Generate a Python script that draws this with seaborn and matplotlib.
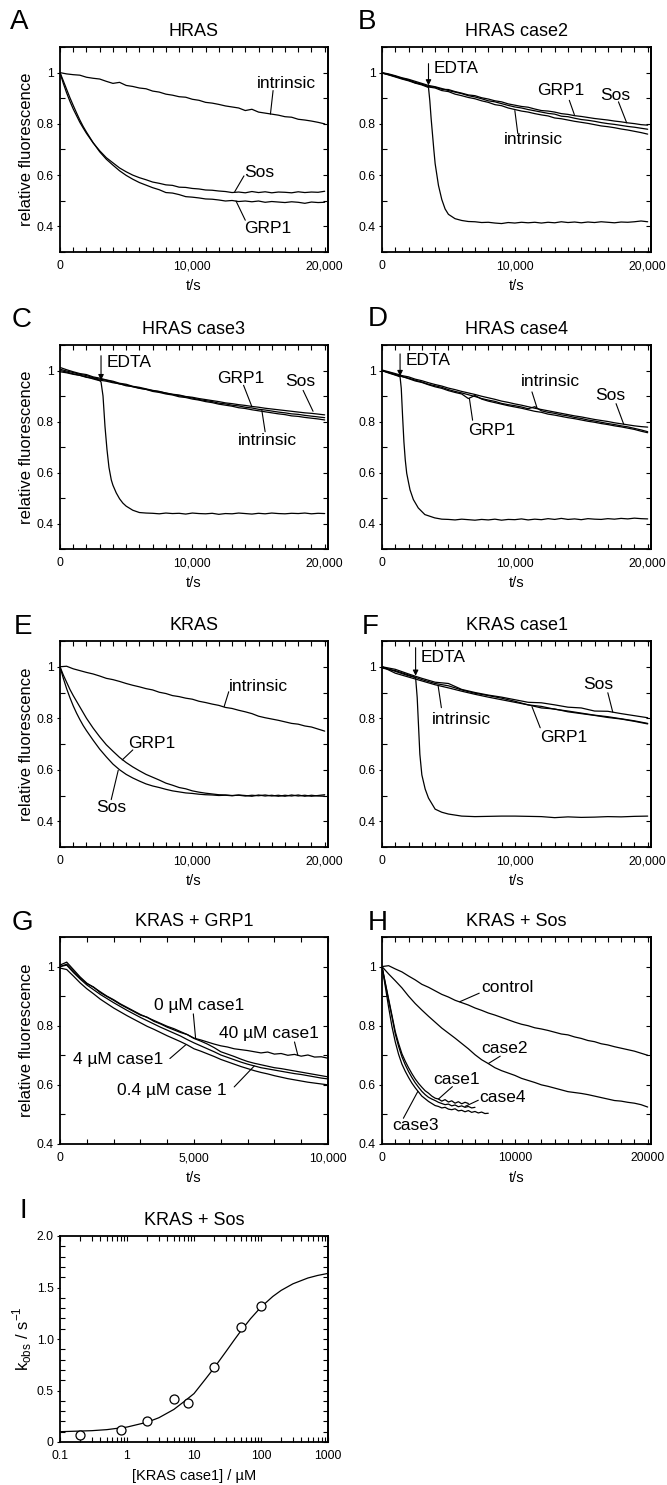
import pandas as pd
import seaborn as sns
import matplotlib.pyplot as plt
from matplotlib.ticker import MultipleLocator, FixedLocator, FuncFormatter, LogLocator, NullFormatter

# ---------------- data ----------------
t500 = list(range(0, 20001, 500))
t_fast = [0, 250, 500, 750, 1000, 1250, 1500, 1750] + list(range(2000, 20001, 500))
t1000 = list(range(0, 20001, 1000))

# A  HRAS
a_intrinsic = [1.000, 0.995, 0.992, 0.990, 0.982, 0.978, 0.975, 0.966, 0.958, 0.962,
               0.950, 0.946, 0.940, 0.937, 0.928, 0.924, 0.916, 0.912, 0.906, 0.904,
               0.896, 0.892, 0.884, 0.881, 0.876, 0.870, 0.866, 0.862, 0.852, 0.857,
               0.846, 0.842, 0.838, 0.834, 0.828, 0.826, 0.818, 0.815, 0.811, 0.806,
               0.800]
a_sos = [1.000, 0.958, 0.921, 0.888, 0.858, 0.832, 0.806, 0.784,
         0.763, 0.726, 0.695, 0.668, 0.648, 0.628, 0.613, 0.600, 0.590, 0.582,
         0.573, 0.568, 0.562, 0.560, 0.553, 0.552, 0.548, 0.546, 0.542, 0.541,
         0.538, 0.536, 0.532, 0.534, 0.531, 0.536, 0.532, 0.535, 0.531, 0.534,
         0.533, 0.531, 0.535, 0.532, 0.534, 0.533, 0.537]
a_grp1 = [1.000, 0.968, 0.935, 0.902, 0.872, 0.843, 0.815, 0.790,
          0.768, 0.727, 0.691, 0.662, 0.639, 0.617, 0.599, 0.584, 0.571, 0.561,
          0.551, 0.543, 0.532, 0.530, 0.524, 0.516, 0.514, 0.511, 0.507, 0.506,
          0.503, 0.499, 0.501, 0.497, 0.499, 0.496, 0.499, 0.494, 0.497, 0.495,
          0.493, 0.496, 0.494, 0.490, 0.495, 0.493, 0.494]

# B  HRAS case2
b_intrinsic = [0.998, 0.992, 0.985, 0.978, 0.972, 0.960, 0.955, 0.944, 0.940, 0.930,
               0.926, 0.916, 0.910, 0.903, 0.898, 0.890, 0.884, 0.875, 0.871, 0.862,
               0.856, 0.850, 0.846, 0.840, 0.835, 0.831, 0.823, 0.820, 0.815, 0.810,
               0.806, 0.802, 0.797, 0.792, 0.789, 0.785, 0.780, 0.776, 0.771, 0.766,
               0.760]
b_grp1 = [1.000, 0.995, 0.988, 0.980, 0.974, 0.966, 0.958, 0.950, 0.945, 0.938,
          0.930, 0.924, 0.918, 0.910, 0.905, 0.898, 0.890, 0.886, 0.879, 0.872,
          0.866, 0.862, 0.856, 0.851, 0.846, 0.841, 0.838, 0.830, 0.828, 0.822,
          0.817, 0.814, 0.810, 0.805, 0.801, 0.798, 0.794, 0.790, 0.787, 0.783,
          0.779]
b_sos = [0.999, 0.993, 0.986, 0.977, 0.970, 0.962, 0.954, 0.946, 0.943, 0.935,
         0.934, 0.926, 0.920, 0.913, 0.910, 0.902, 0.897, 0.890, 0.886, 0.878,
         0.873, 0.868, 0.865, 0.858, 0.852, 0.850, 0.846, 0.840, 0.837, 0.832,
         0.829, 0.825, 0.821, 0.818, 0.815, 0.811, 0.808, 0.804, 0.801, 0.797,
         0.795]
b_edta_t = [0, 500, 1000, 1500, 2000, 2500, 3000, 3500, 3600, 3700, 3800, 3900, 4000,
            4250, 4500, 4750, 5000, 5500, 6000, 6500] + list(range(7000, 20001, 500))
b_edta = [0.999, 0.991, 0.983, 0.975, 0.968, 0.959, 0.952, 0.942, 0.890, 0.820, 0.760,
          0.700, 0.645, 0.560, 0.505, 0.468, 0.447, 0.430, 0.423, 0.419,
          0.418, 0.415, 0.416, 0.413, 0.411, 0.415, 0.413, 0.416, 0.414, 0.416,
          0.413, 0.416, 0.414, 0.418, 0.415, 0.417, 0.414, 0.417, 0.415, 0.418,
          0.416, 0.414, 0.417, 0.416, 0.418, 0.421, 0.418]

# C  HRAS case3
c_intrinsic = [1.005, 0.998, 0.992, 0.985, 0.980, 0.972, 0.966, 0.962, 0.955, 0.947,
               0.943, 0.936, 0.930, 0.926, 0.918, 0.914, 0.908, 0.904, 0.897, 0.894,
               0.888, 0.884, 0.878, 0.874, 0.868, 0.864, 0.860, 0.854, 0.851, 0.846,
               0.842, 0.838, 0.834, 0.830, 0.827, 0.822, 0.820, 0.816, 0.813, 0.810,
               0.806]
c_grp1 = [1.012, 1.003, 0.995, 0.988, 0.984, 0.975, 0.970, 0.963, 0.958, 0.950,
          0.946, 0.938, 0.934, 0.928, 0.922, 0.918, 0.911, 0.906, 0.901, 0.897,
          0.892, 0.886, 0.882, 0.878, 0.872, 0.869, 0.864, 0.861, 0.856, 0.853,
          0.848, 0.845, 0.841, 0.837, 0.834, 0.830, 0.828, 0.824, 0.821, 0.818,
          0.815]
c_sos = [0.995, 0.991, 0.985, 0.981, 0.973, 0.970, 0.962, 0.958, 0.952, 0.948,
         0.940, 0.937, 0.931, 0.926, 0.921, 0.917, 0.912, 0.907, 0.904, 0.898,
         0.895, 0.890, 0.886, 0.882, 0.878, 0.873, 0.870, 0.866, 0.863, 0.859,
         0.856, 0.852, 0.849, 0.846, 0.843, 0.840, 0.837, 0.834, 0.832, 0.829,
         0.826]
c_edta_t = [0, 500, 1000, 1500, 2000, 2500, 3000, 3100, 3250, 3400, 3550, 3700, 3875,
            4000, 4250, 4500, 4750, 5000, 5500, 6000, 6500] + list(range(7000, 20001, 500))
c_edta = [1.000, 0.994, 0.987, 0.981, 0.975, 0.967, 0.960, 0.955, 0.900, 0.780, 0.690,
          0.620, 0.571, 0.550, 0.520, 0.497, 0.480, 0.468, 0.452, 0.443, 0.441,
          0.440, 0.438, 0.441, 0.439, 0.440, 0.437, 0.441, 0.439, 0.438, 0.440,
          0.436, 0.439, 0.438, 0.441, 0.439, 0.437, 0.440, 0.438, 0.441, 0.439,
          0.438, 0.440, 0.439, 0.441, 0.438, 0.440, 0.439]

# D  HRAS case4
d_intrinsic = [0.998, 0.993, 0.985, 0.976, 0.970, 0.962, 0.955, 0.946, 0.940, 0.934,
               0.925, 0.918, 0.912, 0.905, 0.898, 0.890, 0.884, 0.879, 0.871, 0.866,
               0.862, 0.857, 0.850, 0.858, 0.842, 0.836, 0.832, 0.826, 0.822, 0.816,
               0.812, 0.806, 0.802, 0.797, 0.792, 0.788, 0.783, 0.779, 0.773, 0.767,
               0.760]
d_grp1 = [1.000, 0.992, 0.983, 0.977, 0.968, 0.959, 0.953, 0.944, 0.936, 0.930,
          0.921, 0.914, 0.908, 0.890, 0.902, 0.888, 0.880, 0.874, 0.868, 0.862,
          0.857, 0.852, 0.846, 0.840, 0.836, 0.829, 0.825, 0.820, 0.815, 0.811,
          0.806, 0.801, 0.797, 0.792, 0.788, 0.783, 0.779, 0.774, 0.769, 0.762,
          0.756]
d_sos = [1.002, 0.995, 0.988, 0.980, 0.975, 0.966, 0.960, 0.952, 0.945, 0.939,
         0.931, 0.925, 0.918, 0.912, 0.906, 0.899, 0.893, 0.887, 0.880, 0.875,
         0.869, 0.864, 0.858, 0.852, 0.847, 0.842, 0.837, 0.832, 0.827, 0.822,
         0.818, 0.813, 0.808, 0.804, 0.800, 0.795, 0.791, 0.787, 0.783, 0.780,
         0.778]
d_edta_t = [0, 500, 1000, 1360, 1450, 1550, 1650, 1750, 1860, 2000, 2110, 2360, 2730,
            3225, 3970, 4500] + list(range(5000, 20001, 500))
d_edta = [1.000, 0.990, 0.982, 0.975, 0.930, 0.820, 0.720, 0.650, 0.597, 0.560, 0.532,
          0.494, 0.461, 0.435, 0.422, 0.417,
          0.416, 0.414, 0.417, 0.415, 0.413, 0.416, 0.414, 0.417, 0.413, 0.416,
          0.415, 0.418, 0.414, 0.417, 0.415, 0.419, 0.416, 0.420, 0.416, 0.418,
          0.415, 0.419, 0.417, 0.416, 0.419, 0.417, 0.420, 0.418, 0.421, 0.419,
          0.418]

# E  KRAS
e_intrinsic = [1.000, 1.002, 0.992, 0.985, 0.978, 0.972, 0.964, 0.955, 0.950, 0.943,
               0.935, 0.928, 0.922, 0.915, 0.910, 0.901, 0.896, 0.888, 0.884, 0.878,
               0.874, 0.866, 0.861, 0.855, 0.850, 0.842, 0.838, 0.831, 0.825, 0.818,
               0.808, 0.802, 0.797, 0.792, 0.786, 0.780, 0.777, 0.770, 0.766, 0.758,
               0.750]
e_grp1 = [1.000, 0.968, 0.940, 0.912, 0.888, 0.866, 0.844, 0.822,
          0.800, 0.762, 0.728, 0.697, 0.672, 0.648, 0.628, 0.611, 0.596, 0.582,
          0.571, 0.560, 0.548, 0.540, 0.531, 0.526, 0.518, 0.513, 0.509, 0.506,
          0.503, 0.502, 0.500, 0.501, 0.498, 0.501, 0.499, 0.502, 0.498, 0.501,
          0.497, 0.502, 0.498, 0.501, 0.497, 0.500, 0.503]
e_sos = [1.000, 0.955, 0.915, 0.880, 0.848, 0.820, 0.795, 0.772,
         0.752, 0.715, 0.680, 0.650, 0.622, 0.600, 0.582, 0.568, 0.556, 0.545,
         0.537, 0.531, 0.524, 0.518, 0.514, 0.510, 0.508, 0.505, 0.503, 0.502,
         0.500, 0.501, 0.499, 0.502, 0.500, 0.497, 0.502, 0.498, 0.501, 0.497,
         0.501, 0.498, 0.502, 0.497, 0.501, 0.498, 0.497]

# F  KRAS case1
f_intrinsic = [1.000, 0.975, 0.960, 0.945, 0.930, 0.918, 0.905, 0.893, 0.882, 0.872, 0.862,
               0.852, 0.846, 0.835, 0.828, 0.820, 0.812, 0.806, 0.798, 0.790, 0.780]
f_grp1 = [0.995, 0.985, 0.968, 0.950, 0.935, 0.926, 0.910, 0.897, 0.888, 0.878, 0.866,
          0.852, 0.840, 0.836, 0.825, 0.818, 0.811, 0.803, 0.797, 0.788, 0.778]
f_sos = [1.000, 0.990, 0.972, 0.955, 0.940, 0.935, 0.912, 0.900, 0.890, 0.882, 0.872,
         0.862, 0.860, 0.852, 0.843, 0.840, 0.828, 0.827, 0.818, 0.810, 0.802]
f_edta_t = [0, 1000, 2000, 2530, 2650, 2750, 2850, 3000, 3250, 3500, 4000, 4500,
            5000] + list(range(6000, 20001, 1000))
f_edta = [1.000, 0.982, 0.965, 0.958, 0.880, 0.770, 0.660, 0.580, 0.525, 0.490, 0.447,
          0.435, 0.428,
          0.420, 0.418, 0.419, 0.420, 0.420, 0.419, 0.418, 0.414, 0.417, 0.415, 0.416,
          0.418, 0.417, 0.419, 0.420]

# G  KRAS + GRP1 (case1 titration)
tG = list(range(0, 10001, 250))
g_0uM = [1.000, 1.008, 0.985, 0.962, 0.942, 0.931, 0.912, 0.899, 0.886, 0.872,
         0.860, 0.848, 0.836, 0.829, 0.815, 0.806, 0.795, 0.786, 0.777, 0.770,
         0.757, 0.748, 0.738, 0.726, 0.712, 0.704, 0.696, 0.687, 0.679, 0.673,
         0.668, 0.663, 0.658, 0.655, 0.651, 0.647, 0.643, 0.639, 0.635, 0.631,
         0.627]
g_40uM = [1.005, 1.015, 0.990, 0.965, 0.944, 0.930, 0.915, 0.900, 0.888, 0.874,
          0.862, 0.850, 0.838, 0.828, 0.818, 0.808, 0.798, 0.790, 0.780, 0.770,
          0.758, 0.752, 0.745, 0.738, 0.732, 0.728, 0.722, 0.719, 0.716, 0.712,
          0.708, 0.711, 0.704, 0.706, 0.700, 0.703, 0.697, 0.701, 0.694, 0.695,
          0.690]
g_04uM = [1.000, 1.005, 0.980, 0.958, 0.938, 0.922, 0.906, 0.892, 0.878, 0.865,
          0.852, 0.840, 0.828, 0.817, 0.806, 0.795, 0.785, 0.775, 0.765, 0.753,
          0.742, 0.732, 0.722, 0.712, 0.701, 0.693, 0.685, 0.677, 0.670, 0.664,
          0.658, 0.654, 0.650, 0.646, 0.642, 0.638, 0.635, 0.631, 0.627, 0.623,
          0.620]
g_4uM = [0.995, 0.990, 0.968, 0.945, 0.925, 0.908, 0.890, 0.875, 0.860, 0.847,
         0.834, 0.822, 0.810, 0.798, 0.788, 0.777, 0.766, 0.756, 0.746, 0.735,
         0.722, 0.714, 0.705, 0.696, 0.686, 0.678, 0.670, 0.662, 0.655, 0.648,
         0.642, 0.637, 0.631, 0.626, 0.621, 0.617, 0.613, 0.609, 0.606, 0.603,
         0.600]

# H  KRAS + Sos
h_control = [1.000, 1.003, 0.992, 0.982, 0.968, 0.955, 0.940, 0.930, 0.918, 0.906,
             0.897, 0.886, 0.878, 0.870, 0.860, 0.852, 0.843, 0.836, 0.828, 0.820,
             0.812, 0.805, 0.800, 0.793, 0.789, 0.784, 0.778, 0.772, 0.769, 0.762,
             0.757, 0.750, 0.746, 0.739, 0.735, 0.729, 0.724, 0.719, 0.714, 0.707,
             0.700]
h_case2 = [1.000, 0.975, 0.952, 0.928, 0.900, 0.875, 0.853, 0.832, 0.812, 0.792,
           0.775, 0.758, 0.740, 0.722, 0.702, 0.685, 0.672, 0.658, 0.648, 0.640,
           0.632, 0.622, 0.615, 0.608, 0.600, 0.595, 0.589, 0.583, 0.577, 0.574,
           0.571, 0.567, 0.562, 0.557, 0.552, 0.547, 0.545, 0.541, 0.538, 0.533,
           0.525]
tH = list(range(0, 8001, 250))
h_case3 = [1.000, 0.932, 0.862, 0.797, 0.745, 0.703, 0.670, 0.646, 0.625, 0.606,
           0.590, 0.576, 0.562, 0.553, 0.544, 0.537, 0.530, 0.527, 0.522, 0.524,
           0.518, 0.516, 0.519, 0.512, 0.514, 0.509, 0.513, 0.507, 0.510, 0.505,
           0.508, 0.503, 0.504]
h_case1 = [1.000, 0.945, 0.890, 0.835, 0.780, 0.740, 0.705, 0.680, 0.658, 0.638,
           0.620, 0.605, 0.592, 0.580, 0.572, 0.562, 0.555, 0.552, 0.545, 0.550,
           0.542, 0.546, 0.538, 0.543, 0.536, 0.541, 0.537]
h_case4 = [1.000, 0.942, 0.885, 0.830, 0.772, 0.730, 0.695, 0.668, 0.645, 0.625,
           0.607, 0.592, 0.578, 0.567, 0.558, 0.552, 0.547, 0.541, 0.537, 0.533,
           0.535, 0.529, 0.532, 0.526, 0.529, 0.524, 0.527, 0.522, 0.524]

# I  kobs vs [KRAS case1]
kras_conc = [0.2, 0.8, 2, 5, 8, 20, 50, 100]
kobs = [0.07, 0.12, 0.20, 0.42, 0.38, 0.73, 1.12, 1.32]
fit_conc = [0.1, 0.3, 0.5, 1, 2, 3, 5, 7, 10, 15, 20, 30, 40, 50, 70, 100, 150, 200,
            300, 500, 700, 1000]
fit_kobs = [0.100, 0.110, 0.120, 0.145, 0.192, 0.236, 0.316, 0.389, 0.470, 0.615, 0.720,
            0.878, 0.992, 1.078, 1.198, 1.310, 1.413, 1.472, 1.536, 1.592, 1.617, 1.637]

# ---------------- style ----------------
sns.set_style('ticks')
plt.rcParams['font.family'] = ['Liberation Sans', 'DejaVu Sans']
plt.rcParams['mathtext.fontset'] = 'custom'
plt.rcParams['mathtext.rm'] = 'Liberation Sans'
plt.rcParams['axes.linewidth'] = 1.3
for k in ['text.color', 'axes.labelcolor', 'axes.edgecolor', 'xtick.color', 'ytick.color']:
    plt.rcParams[k] = 'black'

W, H = 667, 1485
fig = plt.figure(figsize=(W / 100, H / 100), dpi=100)
fig.patch.set_facecolor('white')

TXT = 12.5
TICK = 8.8
XMAX = 20250


def px_axes(left, top, right, bottom):
    return fig.add_axes([left / W, 1 - bottom / H, (right - left) / W, (bottom - top) / H])


def draw_traces(ax, traces):
    parts = []
    for name, (t, y) in traces.items():
        assert len(t) == len(y), name
        parts.append(pd.DataFrame({'t': t, 'f': y, 'trace': name}))
    df = pd.concat(parts, ignore_index=True)
    sns.lineplot(data=df, x='t', y='f', units='trace', estimator=None,
                 color='black', linewidth=0.9, legend=False, ax=ax)


def style_axes(ax, xmajor, xfmt, yticks, yfmt, ylim, xlim, xminor=None, ylabel=True, xlog=False):
    ax.set_xlim(*xlim)
    ax.set_ylim(*ylim)
    if xlog:
        ax.set_xscale('log')
        ax.xaxis.set_major_locator(LogLocator(base=10))
        ax.xaxis.set_minor_locator(LogLocator(base=10, subs=range(2, 10)))
        ax.xaxis.set_minor_formatter(NullFormatter())
    else:
        ax.xaxis.set_major_locator(FixedLocator(xmajor))
        ax.xaxis.set_minor_locator(MultipleLocator(xminor))
    ax.xaxis.set_major_formatter(FuncFormatter(xfmt))
    ax.yaxis.set_major_locator(FixedLocator(yticks))
    ax.yaxis.set_minor_locator(MultipleLocator(0.1))
    ax.yaxis.set_major_formatter(FuncFormatter(yfmt))
    ax.tick_params(axis='x', which='both', direction='in', top=True, bottom=True,
                   length=3.5, width=0.8, pad=6, labelsize=TICK)
    ax.tick_params(axis='y', which='major', direction='out', left=True, right=False,
                   length=2.5, width=0.8, pad=2, labelsize=TICK)
    ax.tick_params(axis='y', which='minor', direction='in', left=True, right=False,
                   length=3.5, width=0.8)
    sec = ax.secondary_yaxis('right')
    sec.yaxis.set_major_locator(FixedLocator(yticks))
    sec.yaxis.set_minor_locator(MultipleLocator(0.1))
    sec.tick_params(which='both', direction='in', length=3.5, width=0.8, labelright=False)
    sec.spines['right'].set_linewidth(1.3)
    for s in ax.spines.values():
        s.set_visible(True)
    ax.set_xlabel('t/s', fontsize=10.5, labelpad=5)
    ax.set_ylabel('relative fluorescence' if ylabel else '', fontsize=12, labelpad=2)


def comma_fmt(v, p):
    return f'{v:,.0f}'


def plain_fmt(v, p):
    return f'{v:.0f}'


def rel_fmt(v, p):
    return '1' if abs(v - 1) < 1e-9 else f'{v:.1f}'


def lead(ax, text, tx, ty, x0, y0, x1, y1):
    ax.annotate('', xy=(x1, y1), xytext=(x0, y0),
                arrowprops=dict(arrowstyle='-', lw=0.8, color='black', shrinkA=0, shrinkB=0))
    ax.text(tx, ty, text, ha='left', va='center', fontsize=TXT)


def edta(ax, x, ytop, ytip, tx, ty):
    ax.annotate('', xy=(x, ytip), xytext=(x, ytop),
                arrowprops=dict(arrowstyle='-|>', lw=0.8, color='black', mutation_scale=8,
                                shrinkA=0, shrinkB=0))
    ax.text(tx, ty, 'EDTA', ha='left', va='center', fontsize=TXT)


def letter(x, y, s):
    fig.text(x / W, 1 - y / H, s, fontsize=20, va='baseline', ha='left')


L = (60, 328)
R = (382, 651)
rows = [(47, 252), (345, 549), (641, 847), (937, 1144), (1236, 1442)]
lim_std = (0.3, 1.1)
yt_std = [0.4, 0.6, 0.8, 1.0]
xt_std = [0, 10000, 20000]

# A
ax = px_axes(L[0], rows[0][0], L[1], rows[0][1])
draw_traces(ax, {'intrinsic': (t500, a_intrinsic), 'Sos': (t_fast, a_sos), 'GRP1': (t_fast, a_grp1)})
style_axes(ax, xt_std, comma_fmt, yt_std, rel_fmt, lim_std, (0, XMAX), xminor=1000)
ax.set_title('HRAS', fontsize=13, pad=8)
lead(ax, 'intrinsic', 14870, 0.956, 16100, 0.930, 15900, 0.838)
lead(ax, 'Sos', 13950, 0.610, 13900, 0.597, 13200, 0.535)
lead(ax, 'GRP1', 13880, 0.392, 14000, 0.424, 13300, 0.499)

# B
ax = px_axes(R[0], rows[0][0], R[1], rows[0][1])
draw_traces(ax, {'intrinsic': (t500, b_intrinsic), 'GRP1': (t500, b_grp1), 'Sos': (t500, b_sos),
                 'EDTA': (b_edta_t, b_edta)})
style_axes(ax, xt_std, comma_fmt, yt_std, rel_fmt, lim_std, (0, XMAX), xminor=1000, ylabel=False)
ax.set_title('HRAS case2', fontsize=13, pad=8)
edta(ax, 3500, 1.035, 0.950, 3900, 1.015)
lead(ax, 'GRP1', 11650, 0.930, 14100, 0.892, 14480, 0.836)
lead(ax, 'Sos', 16450, 0.911, 17800, 0.886, 18420, 0.804)
lead(ax, 'intrinsic', 9190, 0.738, 10220, 0.763, 10000, 0.852)

# C
ax = px_axes(L[0], rows[1][0], L[1], rows[1][1])
draw_traces(ax, {'intrinsic': (t500, c_intrinsic), 'GRP1': (t500, c_grp1), 'Sos': (t500, c_sos),
                 'EDTA': (c_edta_t, c_edta)})
style_axes(ax, xt_std, comma_fmt, yt_std, rel_fmt, lim_std, (0, XMAX), xminor=1000)
ax.set_title('HRAS case3', fontsize=13, pad=8)
edta(ax, 3100, 1.058, 0.962, 3500, 1.030)
lead(ax, 'GRP1', 11870, 0.968, 13870, 0.942, 14500, 0.858)
lead(ax, 'Sos', 17000, 0.955, 18370, 0.922, 19120, 0.840)
lead(ax, 'intrinsic', 13450, 0.727, 15500, 0.760, 15250, 0.844)

# D
ax = px_axes(R[0], rows[1][0], R[1], rows[1][1])
draw_traces(ax, {'intrinsic': (t500, d_intrinsic), 'GRP1': (t500, d_grp1), 'Sos': (t500, d_sos),
                 'EDTA': (d_edta_t, d_edta)})
style_axes(ax, xt_std, comma_fmt, yt_std, rel_fmt, lim_std, (0, XMAX), xminor=1000, ylabel=False)
ax.set_title('HRAS case4', fontsize=13, pad=8)
edta(ax, 1360, 1.065, 0.978, 1750, 1.040)
lead(ax, 'intrinsic', 10420, 0.955, 11290, 0.916, 11660, 0.855)
lead(ax, 'Sos', 16080, 0.903, 17620, 0.870, 18190, 0.790)
lead(ax, 'GRP1', 6450, 0.766, 6820, 0.805, 6580, 0.890)

# E
ax = px_axes(L[0], rows[2][0], L[1], rows[2][1])
draw_traces(ax, {'intrinsic': (t500, e_intrinsic), 'GRP1': (t_fast, e_grp1), 'Sos': (t_fast, e_sos)})
style_axes(ax, xt_std, comma_fmt, yt_std, rel_fmt, lim_std, (0, XMAX), xminor=1000)
ax.set_title('KRAS', fontsize=13, pad=8)
lead(ax, 'intrinsic', 12750, 0.923, 12750, 0.903, 12400, 0.845)
lead(ax, 'GRP1', 5120, 0.703, 5500, 0.677, 4700, 0.638)
lead(ax, 'Sos', 2750, 0.452, 3870, 0.484, 4400, 0.598)

# F
ax = px_axes(R[0], rows[2][0], R[1], rows[2][1])
draw_traces(ax, {'intrinsic': (t1000, f_intrinsic), 'GRP1': (t1000, f_grp1), 'Sos': (t1000, f_sos),
                 'EDTA': (f_edta_t, f_edta)})
style_axes(ax, xt_std, comma_fmt, yt_std, rel_fmt, lim_std, (0, XMAX), xminor=1000, ylabel=False)
ax.set_title('KRAS case1', fontsize=13, pad=8)
edta(ax, 2530, 1.074, 0.965, 2930, 1.035)
lead(ax, 'Sos', 15140, 0.931, 17000, 0.899, 17370, 0.824)
lead(ax, 'intrinsic', 3770, 0.796, 4470, 0.841, 4220, 0.928)
lead(ax, 'GRP1', 11910, 0.724, 11910, 0.763, 11290, 0.845)

# G
ax = px_axes(L[0], rows[3][0], L[1], rows[3][1])
draw_traces(ax, {'0': (tG, g_0uM), '40': (tG, g_40uM), '0.4': (tG, g_04uM), '4': (tG, g_4uM)})
style_axes(ax, [0, 5000, 10000], comma_fmt, [0.4, 0.6, 0.8, 1.0], rel_fmt, (0.4, 1.1),
           (0, 10000), xminor=1000)
ax.set_title('KRAS + GRP1', fontsize=13, pad=8)
lead(ax, '0 µM case1', 3500, 0.869, 4975, 0.840, 5060, 0.757)
lead(ax, '40 µM case1', 5940, 0.773, 8750, 0.745, 8875, 0.700)
lead(ax, '4 µM case1', 500, 0.685, 4100, 0.689, 4700, 0.736)
lead(ax, '0.4 µM case 1', 2125, 0.582, 6500, 0.593, 7250, 0.664)

# H
ax = px_axes(R[0], rows[3][0], R[1], rows[3][1])
draw_traces(ax, {'control': (t500, h_control), 'case2': (t500, h_case2), 'case3': (tH, h_case3),
                 'case1': (tH[:len(h_case1)], h_case1), 'case4': (tH[:len(h_case4)], h_case4)})
style_axes(ax, xt_std, plain_fmt, [0.4, 0.6, 0.8, 1.0], rel_fmt, (0.4, 1.1),
           (0, XMAX), xminor=1000, ylabel=False)
ax.set_title('KRAS + Sos', fontsize=13, pad=8)
lead(ax, 'control', 7490, 0.930, 7320, 0.910, 5850, 0.881)
lead(ax, 'case2', 7490, 0.722, 8900, 0.697, 8000, 0.672)
lead(ax, 'case1', 3850, 0.618, 5300, 0.594, 4250, 0.552)
lead(ax, 'case4', 7320, 0.557, 7250, 0.548, 6250, 0.527)
lead(ax, 'case3', 745, 0.464, 1610, 0.487, 2700, 0.578)

# I
ax = px_axes(L[0], rows[4][0], L[1], rows[4][1])
sns.lineplot(x=fit_conc, y=fit_kobs, color='black', linewidth=0.9, ax=ax)
sns.scatterplot(x=kras_conc, y=kobs, s=42, marker='o', facecolor='white',
                edgecolor='black', linewidth=0.9, zorder=3, ax=ax)
style_axes(ax, None, lambda v, p: f'{v:g}', [0, 0.5, 1.0, 1.5, 2.0],
           lambda v, p: '0' if v == 0 else f'{v:.1f}', (0, 2.0), (0.1, 1000), xlog=True)
ax.set_xlabel('[KRAS case1] / µM', fontsize=10.5, labelpad=5)
ax.set_ylabel('k$_\\mathregular{obs}$ / s$^\\mathregular{-1}$', fontsize=12, labelpad=2)
ax.set_title('KRAS + Sos', fontsize=13, pad=8)

letter(10, 29, 'A')
letter(358, 29, 'B')
letter(12, 327, 'C')
letter(368, 326, 'D')
letter(14, 634, 'E')
letter(362, 634, 'F')
letter(12, 930, 'G')
letter(368, 930, 'H')
letter(19, 1218, 'I')

fig.savefig('out.png', dpi=100, facecolor='white')
